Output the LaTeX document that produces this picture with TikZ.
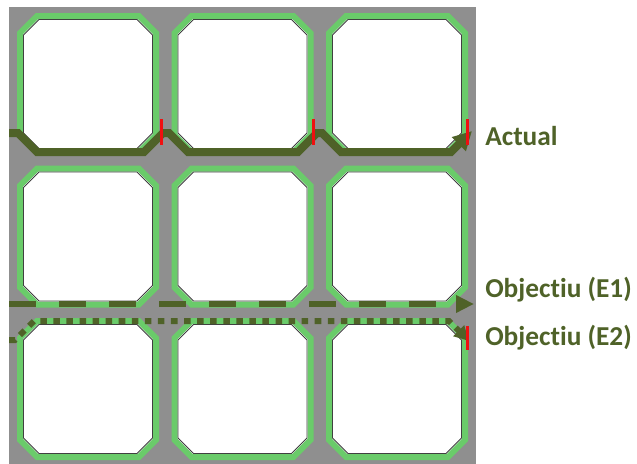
\documentclass[tikz,border=0pt]{standalone}
\usepackage{fontspec}
\setmainfont{Carlito}[Ligatures={NoCommon,NoRare}]
\usetikzlibrary{arrows.meta}
\definecolor{olivedk}{HTML}{4F6228}
\definecolor{lgreen}{HTML}{6ACB6A}
\definecolor{bggray}{HTML}{8F8F8F}
\definecolor{redmk}{HTML}{F01010}
\newcommand{\cellbox}[2]{%
  \fill[white] (#1+17,#2) -- (#1+119,#2) -- (#1+136,#2+17) -- (#1+136,#2+119) -- (#1+119,#2+136) -- (#1+17,#2+136) -- (#1,#2+119) -- (#1,#2+17) -- cycle;
  \draw[cellrim] (#1+17,#2) -- (#1+119,#2) -- (#1+136,#2+17) -- (#1+136,#2+119) -- (#1+119,#2+136) -- (#1+17,#2+136) -- (#1,#2+119) -- (#1,#2+17) -- cycle;
  \draw[cellin] (#1+19,#2+3.5) -- (#1+117,#2+3.5) -- (#1+132.5,#2+19) -- (#1+132.5,#2+117) -- (#1+117,#2+132.5) -- (#1+19,#2+132.5) -- (#1+3.5,#2+117) -- (#1+3.5,#2+19) -- cycle;
}
\begin{document}
\begin{tikzpicture}[x=0.75pt,y=-0.75pt,
  cellrim/.style={draw=lgreen,line width=4.5pt,line join=miter},
  cellin/.style={draw=black!75,line width=0.6pt,line join=miter},
  actualpath/.style={draw=olivedk,line width=6pt,line join=miter,-{Triangle[length=14pt,width=14pt]}},
  e1path/.style={draw=olivedk,line width=4.9pt,dash pattern=on 20.25pt off 17.25pt,-{Triangle[length=13.5pt,width=12.5pt]}},
  e2path/.style={draw=olivedk,line width=4.5pt,line join=miter,dash pattern=on 4.9pt off 4.9pt,-{Triangle[length=11pt,width=11pt]}},
  redmark/.style={draw=redmk,line width=2.25pt},
  lab/.style={text=olivedk,font=\fontsize{20.5pt}{24pt}\selectfont\bfseries,inner sep=0pt,anchor=base west}]
\useasboundingbox (0,0) rectangle (637,464);
\fill[bggray] (9,7) rectangle (476,464);
\foreach \cx in {20,174.5,329}{
  \foreach \cy in {16,168.5,321}{
    \cellbox{\cx}{\cy}
  }
}
% Actual
\coordinate (a0) at (9,133);
\coordinate (a1) at (472,131);
\draw[actualpath] (a0) -- (18,133) -- (37,152) -- (144,152) -- (163,133) -- (169,133) -- (188,152) -- (298,152) -- (317,133) -- (322,133) -- (341,152) -- (451,152) -- (a1);
% E1
\coordinate (b0) at (9,304);
\coordinate (b1) at (474,304);
\draw[e1path] (b0) -- (b1);
% E2
\coordinate (c0) at (9,340);
\coordinate (c1) at (469,341);
\draw[e2path] (c0) -- (15,340) -- (34,321) -- (449,321) -- (c1);
% red markers
\draw[redmark] (161,119) -- (161,145);
\draw[redmark] (313,119) -- (313,145);
\draw[redmark] (467,119) -- (467,145);
\draw[redmark] (467,326) -- (467,350);
% labels
\node[lab] (lact) at (485,146) {Actual};
\node[lab] (le1) at (485,297) {Objectiu (E1)};
\node[lab] (le2) at (485,345) {Objectiu (E2)};
\end{tikzpicture}
\end{document}
